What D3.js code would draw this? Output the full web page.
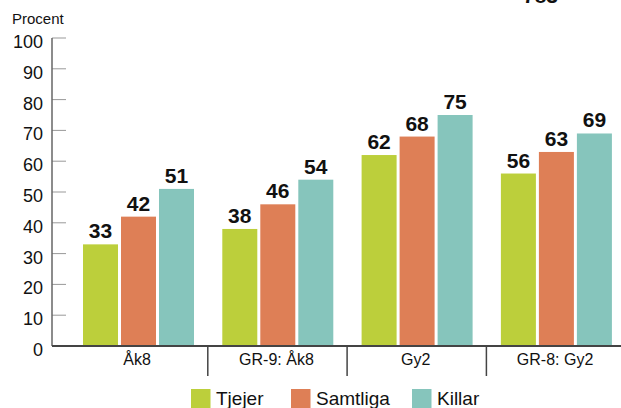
<!DOCTYPE html>
<html>
<head>
<meta charset="utf-8">
<script src="https://cdn.jsdelivr.net/npm/d3@7"></script>
<style>
  html, body { margin: 0; padding: 0; background: #fff; }
  svg { display: block; font-family: "Liberation Sans", Arial, Helvetica, sans-serif; }
</style>
</head>
<body>
<svg id="chart" width="621" height="408"></svg>
<script>
// ========= Data =========
const groups = ["Åk8", "GR-9: Åk8", "Gy2", "GR-8: Gy2"];
const series = ["Tjejer", "Samtliga", "Killar"];
const tjejer = [33, 38, 62, 56];
const samtliga = [42, 46, 68, 63];
const killar = [51, 54, 75, 69];
const yTicks = [0, 10, 20, 30, 40, 50, 60, 70, 80, 90, 100];
const colors = ["#bccf3b", "#de7f56", "#86c5bc"];

const values = [tjejer, samtliga, killar];

// ========= Setup =========
const svg = d3.select("#chart");
const W = 621, H = 408;
const axisX = 52;
const y0 = 346, y100 = 38;

const x0 = d3.scaleBand()
  .domain(groups)
  .range([68.5, 68.5 + 4 * 139.3])
  .padding(0);

const x1 = d3.scaleBand()
  .domain(series)
  .range([14.5, 14.5 + 111])
  .paddingInner(3 / 38)
  .paddingOuter(0);

const y = d3.scaleLinear()
  .domain([0, 100])
  .range([y0, y100]);

const color = d3.scaleOrdinal().domain(series).range(colors);

// ========= Y axis =========
svg.append("text")
  .attr("x", 12).attr("y", 24)
  .attr("font-size", 15)
  .attr("fill", "#111")
  .text("Procent");

const yAxis = svg.append("g");
yAxis.selectAll("line.tick")
  .data(yTicks.filter(d => d > 0))
  .join("line")
  .attr("class", "tick")
  .attr("x1", axisX).attr("x2", axisX + 14)
  .attr("y1", d => y(d)).attr("y2", d => y(d))
  .attr("stroke", "#999").attr("stroke-width", 1);

yAxis.append("line")
  .attr("x1", axisX).attr("x2", axisX)
  .attr("y1", y(100)).attr("y2", y0)
  .attr("stroke", "#666").attr("stroke-width", 1.5);

yAxis.selectAll("text")
  .data(yTicks)
  .join("text")
  .attr("x", 43)
  .attr("y", d => y(d) + 10)
  .attr("text-anchor", "end")
  .attr("font-size", 18)
  .attr("fill", "#111")
  .text(d => d);

// ========= Bars =========
const rows = groups.map((g, i) => ({
  group: g,
  items: series.map((s, j) => ({ series: s, value: values[j][i] }))
}));

const gGroups = svg.append("g")
  .selectAll("g")
  .data(rows)
  .join("g")
  .attr("transform", d => `translate(${x0(d.group)},0)`);

gGroups.selectAll("rect")
  .data(d => d.items)
  .join("rect")
  .attr("x", d => x1(d.series))
  .attr("y", d => y(d.value))
  .attr("width", x1.bandwidth())
  .attr("height", d => y0 - y(d.value))
  .attr("fill", d => color(d.series));

gGroups.selectAll("text.val")
  .data(d => d.items)
  .join("text")
  .attr("class", "val")
  .attr("x", d => x1(d.series) + x1.bandwidth() / 2)
  .attr("y", d => y(d.value) - 6)
  .attr("text-anchor", "middle")
  .attr("font-size", 21)
  .attr("font-weight", "bold")
  .attr("fill", "#111")
  .text(d => d.value);

// ========= X axis =========
const xAxis = svg.append("g");
xAxis.append("line")
  .attr("x1", axisX).attr("x2", W)
  .attr("y1", y0).attr("y2", y0)
  .attr("stroke", "#444").attr("stroke-width", 2);

xAxis.selectAll("line.sep")
  .data(groups.slice(1))
  .join("line")
  .attr("class", "sep")
  .attr("x1", d => x0(d)).attr("x2", d => x0(d))
  .attr("y1", y0).attr("y2", 376)
  .attr("stroke", "#444").attr("stroke-width", 1.5);

xAxis.selectAll("text")
  .data(groups)
  .join("text")
  .attr("x", d => x0(d) + x0.bandwidth() / 2 - 1)
  .attr("y", 365)
  .attr("text-anchor", "middle")
  .attr("font-size", 16)
  .attr("fill", "#111")
  .text(d => d);

// ========= Legend =========
const legendX = [191, 291, 412];
const legend = svg.append("g")
  .selectAll("g")
  .data(series)
  .join("g")
  .attr("transform", (d, i) => `translate(${legendX[i]},389)`);

legend.append("rect")
  .attr("width", 19.5).attr("height", 19)
  .attr("fill", d => color(d));

legend.append("text")
  .attr("x", 25).attr("y", 16)
  .attr("font-size", 19)
  .attr("fill", "#111")
  .text(d => d);

// cut-off label at the top edge (as in the reference)
svg.append("text")
  .attr("x", 523).attr("y", 3)
  .attr("font-size", 21)
  .attr("font-weight", "bold")
  .attr("fill", "#111")
  .text("783");
</script>
</body>
</html>
